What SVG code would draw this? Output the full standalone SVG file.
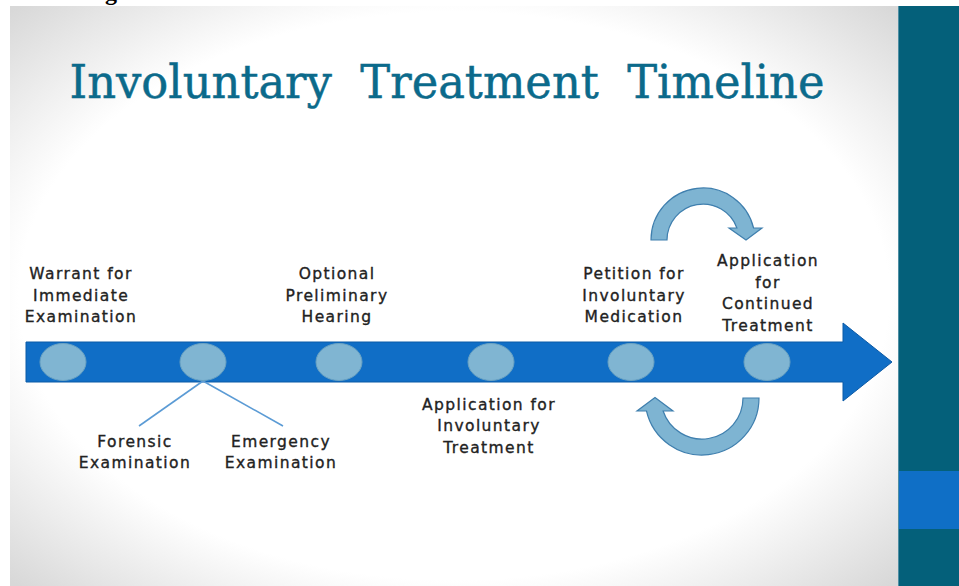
<svg xmlns="http://www.w3.org/2000/svg" width="959" height="586" viewBox="0 0 959 586">
  <defs>
    <radialGradient id="bg" cx="0.5" cy="0.5" r="0.7" gradientUnits="objectBoundingBox">
      <stop offset="0" stop-color="#ffffff"/>
      <stop offset="0.7" stop-color="#ffffff"/>
      <stop offset="1" stop-color="#d8d8d8"/>
    </radialGradient>
    <style>
      .lbl { font-family: "DejaVu Sans", Verdana, sans-serif; font-size: 15.5px; fill: #222222; stroke: #222222; stroke-width: 0.35px; text-anchor: middle; letter-spacing: 1.4px; }
      .dot { fill: #80b5d2; stroke: #6aa2c2; stroke-width: 1; }
      .curl { fill: #7eb4d2; stroke: #3f7fae; stroke-width: 1.2; stroke-linejoin: miter; }
      .conn { stroke: #5b9bd5; stroke-width: 1.6; fill: none; }
    </style>
  </defs>

  <rect x="0" y="0" width="959" height="586" fill="#ffffff"/>
  <text x="105" y="0" font-family="Liberation Serif, serif" font-size="24" font-weight="bold" fill="#000000">g</text>

  <!-- slide background -->
  <rect x="10" y="6" width="888" height="580" fill="url(#bg)"/>
  <!-- right panel -->
  <rect x="898" y="6" width="61" height="580" fill="#04607a"/>
  <rect x="898" y="471" width="61" height="58" fill="#0f6fc6"/>
  <line x1="898.5" y1="6" x2="898.5" y2="586" stroke="#4f8ea3" stroke-width="1"/>

  <!-- title -->
  <text id="title" x="447" y="98" font-family="DejaVu Serif, serif" font-size="47" fill="#0b6a8b" stroke="#0b6a8b" stroke-width="0.5" text-anchor="middle" style="white-space:pre" textLength="755" lengthAdjust="spacingAndGlyphs">Involuntary  Treatment  Timeline</text>

  <!-- timeline arrow -->
  <g id="timeline">
    <path d="M26,342 H843 V323 L892,362 L843,401 V382 H26 Z" fill="#106ec6" stroke="#0b5aa6" stroke-width="1"/>
  </g>

  <!-- connectors -->
  <g id="connectors">
    <line class="conn" x1="203" y1="381" x2="139" y2="426"/>
    <line class="conn" x1="203" y1="381" x2="283" y2="426"/>
  </g>

  <!-- cycle arrows -->
  <g id="cycle-top">
    <path class="curl" d="M651,240 A52,52 0 0 1 753.6,228 L762,228 L746,240 L729,228 L736.9,228 A36,36 0 0 0 667,240 Z"/>
  </g>
  <g id="cycle-bottom">
    <path class="curl" d="M759,398 A57,57 0 0 1 646.5,411 L637,411 L655,397.5 L673,411 L663.1,411 A41,41 0 0 0 743,398 Z"/>
  </g>

  <!-- nodes -->
  <g id="node-warrant">
    <ellipse class="dot" cx="63" cy="362" rx="23" ry="18.5"/>
    <text class="lbl" x="81" y="279">Warrant for</text>
    <text class="lbl" x="81" y="301">Immediate</text>
    <text class="lbl" x="81" y="322">Examination</text>
  </g>
  <g id="node-examination">
    <ellipse class="dot" cx="203" cy="362" rx="23" ry="18.5"/>
  </g>
  <g id="node-forensic">
    <text class="lbl" x="135" y="447">Forensic</text>
    <text class="lbl" x="135" y="468">Examination</text>
  </g>
  <g id="node-emergency">
    <text class="lbl" x="281" y="447">Emergency</text>
    <text class="lbl" x="281" y="468">Examination</text>
  </g>
  <g id="node-hearing">
    <ellipse class="dot" cx="339" cy="362" rx="23" ry="18.5"/>
    <text class="lbl" x="337" y="279">Optional</text>
    <text class="lbl" x="337" y="301">Preliminary</text>
    <text class="lbl" x="337" y="322">Hearing</text>
  </g>
  <g id="node-application">
    <ellipse class="dot" cx="491" cy="362" rx="23" ry="18.5"/>
    <text class="lbl" x="489" y="410">Application for</text>
    <text class="lbl" x="489" y="431">Involuntary</text>
    <text class="lbl" x="489" y="453">Treatment</text>
  </g>
  <g id="node-petition">
    <ellipse class="dot" cx="631" cy="362" rx="23" ry="18.5"/>
    <text class="lbl" x="634" y="279">Petition for</text>
    <text class="lbl" x="634" y="301">Involuntary</text>
    <text class="lbl" x="634" y="322">Medication</text>
  </g>
  <g id="node-continued">
    <ellipse class="dot" cx="767" cy="362" rx="23" ry="18.5"/>
    <text class="lbl" x="768" y="266">Application</text>
    <text class="lbl" x="768" y="288">for</text>
    <text class="lbl" x="768" y="309">Continued</text>
    <text class="lbl" x="768" y="331">Treatment</text>
  </g>
</svg>
